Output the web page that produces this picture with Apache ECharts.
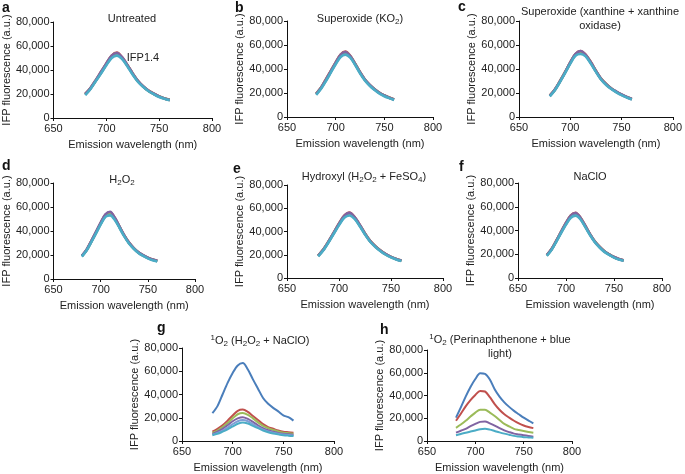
<!DOCTYPE html>
<html><head><meta charset="utf-8">
<script src="https://cdn.jsdelivr.net/npm/echarts@6/dist/echarts.min.js"></script>
<style>html,body{margin:0;padding:0;background:#fff}#c{width:685px;height:474px}</style>
</head><body><div id="c"></div>
<script>
const wl = [680,685,690,695,700,705,710,715,720,725,730,735,740,745,750,755,760];
const xTicks = [650,700,750,800];
const yTicks = [0,20000,40000,60000,80000];

const aBlue   = [19500,24500,31000,37500,44500,50500,53000,49500,43500,36500,30500,26000,22500,20000,17800,16200,15000];
const aRed    = [20000,25000,31500,38500,45500,52000,54500,50500,44000,37000,30800,26300,22800,20200,18000,16300,15100];
const aGreen  = [19800,24800,31200,38000,45000,51500,54000,50000,43800,36800,30600,26100,22600,20100,17900,16200,15000];
const aPurple = [20000,25000,31500,38500,45500,52000,54200,50500,44000,37000,30800,26200,22700,20200,18000,16300,15000];
const aCyan   = [19000,24200,30800,37200,44000,50000,52000,49000,43000,36000,30000,25800,22300,19800,17500,16000,14700];

const bBlue   = [19000,24000,30500,37500,44500,50500,53000,50000,44000,37000,31000,26500,23000,20000,17800,16000,14500];
const bRed    = [19500,24500,31500,38500,45500,52000,54500,51000,44500,37500,31300,26800,23200,20200,18000,16200,14700];
const bGreen  = [19200,24300,31000,38000,45000,51500,54000,50500,44200,37200,31100,26600,23100,20100,17900,16100,14600];
const bPurple = [19300,24400,31200,38200,45200,51800,54200,50800,44300,37300,31200,26700,23100,20100,17900,16100,14600];
const bCyan   = [18500,23500,30000,37000,44000,50000,52000,49500,43500,36500,30500,26000,22500,19500,17300,15700,14200];

const cBlue   = [17500,22500,29500,37000,45000,51500,53500,51000,45000,38000,31500,27000,23500,20800,18500,16500,14800];
const cRed    = [17800,23000,30000,37500,45500,52500,55000,52000,45800,38500,32000,27500,23800,21000,18700,16700,15000];
const cGreen  = [17600,22800,29800,37300,45300,52000,54500,51500,45500,38300,31800,27300,23700,20900,18600,16600,14900];
const cPurple = [17700,22900,29900,37500,45500,52300,55000,51800,45600,38400,31900,27400,23800,21200,18800,16800,15000];
const cCyan   = [17200,22300,29300,36700,44500,51000,52500,50500,44500,37600,31200,26700,23300,20600,18200,16300,14600];

const dBlue   = [19000,24000,31000,38500,46000,52500,54500,50000,43000,36000,30000,25500,22000,19500,17500,16000,15000];
const dRed    = [19200,24300,31500,39000,46800,53500,55500,50800,43500,36300,30300,25800,22200,19700,17700,16200,15100];
const dGreen  = [19000,24100,31200,38700,46300,53000,55000,50300,43200,36100,30100,25600,22100,19600,17600,16100,15000];
const dPurple = [19300,24400,31600,39200,47000,53800,56000,51000,43600,36400,30400,25800,22300,19800,17800,16300,15200];
const dCyan   = [18700,23700,30700,38000,45500,51800,53000,49200,42500,35500,29600,25200,21700,19200,17200,15700,14600];

const eBlue   = [19000,24200,31000,38500,46000,52500,55000,51500,45000,37800,31500,27000,23300,20300,18000,16200,14800];
const eRed    = [19300,24700,31600,39200,47000,53600,56300,52500,45700,38300,31900,27300,23600,20600,18200,16400,15000];
const eGreen  = [19100,24400,31300,38800,46500,53000,55500,52000,45300,38000,31700,27100,23400,20400,18100,16300,14900];
const ePurple = [19200,24600,31500,39000,46800,53400,56000,52300,45600,38200,31800,27200,23500,20500,18200,16400,15000];
const eCyan   = [18700,23900,30700,38100,45500,51800,53800,50800,44500,37400,31200,26700,23000,20000,17700,16000,14600];

const fBlue   = [19000,24000,31000,38500,45500,51500,53500,50000,43500,36500,30500,26000,22300,19700,17500,15800,14700];
const fRed    = [19300,24500,31600,39200,46500,52800,55000,51000,44200,37000,30900,26300,22500,19900,17700,16000,14900];
const fGreen  = [19100,24200,31300,38800,46000,52200,54200,50500,43800,36700,30700,26100,22400,19800,17600,15900,14800];
const fPurple = [19200,24400,31500,39000,46300,52600,54600,50800,44000,36900,30800,26200,22500,19900,17700,16000,14800];
const fCyan   = [18700,23700,30700,38100,45000,50800,52500,49500,43000,36200,30200,25700,22000,19400,17200,15600,14500];

const gBlue   = [24000,30000,40000,50000,58500,65000,67000,61500,53000,45000,37000,32000,28500,25500,22000,20500,17500];
const gRed    = [8000,10500,13500,17500,22000,26000,27000,25000,21500,18000,14500,12000,10500,9000,8000,7500,7000];
const gGreen  = [7000,9000,12000,15500,19500,23000,24000,22500,19500,16000,13000,11000,9500,8200,7200,6700,6300];
const gPurple = [6000,8000,10500,13500,17000,19500,20500,19000,16500,13500,11000,9300,8000,7000,6300,5800,5400];
const gLight  = [5500,7000,9000,11500,14500,17000,18000,17000,14500,12000,9800,8300,7200,6300,5600,5100,4800];
const gCyan   = [5000,6200,8000,10000,12500,14800,16000,15000,13000,11000,9000,7600,6500,5700,5000,4600,4300];

const hBlue   = [20500,29500,39000,47500,54500,59500,59000,54000,45500,39000,34000,30000,26500,23500,20500,18000,15500];
const hRed    = [17800,24000,30500,36000,40500,44000,43500,38500,32500,27500,23500,20500,17800,15500,13600,12300,11300];
const hGreen  = [11600,14500,17800,21500,25000,27500,27500,25000,22000,18500,15000,12800,10700,9700,8800,8000,7300];
const hPurple = [7300,9000,10700,13000,15000,16800,17200,15500,13600,11300,9300,7800,6500,5800,5100,4400,3700];
const hCyan   = [5100,6200,7300,8300,9300,10300,10700,10000,8800,7600,6500,5500,4500,3900,3400,3100,2800];

const C = {blue:'#4a7ebb', red:'#c0504d', green:'#9bbb59', purple:'#8064a2', light:'#7f9ed6', cyan:'#4bacc6'};
const FONT = '"Liberation Sans", Arial, sans-serif';
const FS = 11;

const panels = [
  {grid:{left:52,top:22,width:160,height:96}, s:[[aBlue,'blue'],[aRed,'red'],[aGreen,'green'],[aPurple,'purple'],[aCyan,'cyan']], w:2.6},
  {grid:{left:287,top:21,width:146,height:96}, s:[[bBlue,'blue'],[bRed,'red'],[bGreen,'green'],[bPurple,'purple'],[bCyan,'cyan']], w:2.6},
  {grid:{left:519,top:21,width:158,height:96}, s:[[cBlue,'blue'],[cRed,'red'],[cGreen,'green'],[cPurple,'purple'],[cCyan,'cyan']], w:2.6},
  {grid:{left:52,top:183,width:143,height:96}, s:[[dBlue,'blue'],[dRed,'red'],[dGreen,'green'],[dPurple,'purple'],[dCyan,'cyan']], w:2.6},
  {grid:{left:287,top:185,width:156,height:93}, s:[[eBlue,'blue'],[eRed,'red'],[eGreen,'green'],[ePurple,'purple'],[eCyan,'cyan']], w:2.6},
  {grid:{left:518,top:183,width:144,height:95}, s:[[fBlue,'blue'],[fRed,'red'],[fGreen,'green'],[fPurple,'purple'],[fCyan,'cyan']], w:2.6},
  {grid:{left:182,top:348,width:152,height:96}, s:[[gBlue,'blue'],[gRed,'red'],[gGreen,'green'],[gPurple,'purple'],[gLight,'light'],[gCyan,'cyan']], w:2},
  {grid:{left:427,top:350,width:145,height:94}, s:[[hBlue,'blue'],[hRed,'red'],[hGreen,'green'],[hPurple,'purple'],[hCyan,'cyan']], w:2}
];

const grids=[], xAxes=[], yAxes=[], series=[];
panels.forEach((p,i)=>{
  grids.push(Object.assign({containLabel:false}, p.grid));
  xAxes.push({type:'value', gridIndex:i, min:xTicks[0], max:xTicks[xTicks.length-1], interval:50,
    name:'Emission wavelength (nm)', nameLocation:'middle', nameGap:21,
    nameTextStyle:{fontFamily:FONT,fontSize:FS,color:'#222'},
    axisLine:{show:true,onZero:false,lineStyle:{color:'#111',width:1}},
    axisTick:{show:true,length:3,lineStyle:{color:'#111'}},
    axisLabel:{fontFamily:FONT,fontSize:FS,color:'#222',margin:5},
    splitLine:{show:false}});
  yAxes.push({type:'value', gridIndex:i, min:yTicks[0], max:yTicks[yTicks.length-1], interval:20000,
    name:'IFP fluorescence (a.u.)', nameLocation:'middle', nameGap:41,
    nameTextStyle:{fontFamily:FONT,fontSize:FS,color:'#222'},
    axisLine:{show:true,lineStyle:{color:'#111',width:1}},
    axisTick:{show:true,length:3,lineStyle:{color:'#111'}},
    axisLabel:{fontFamily:FONT,fontSize:FS,color:'#222',margin:4,formatter:v=>v.toLocaleString('en-US')},
    splitLine:{show:false}});
  p.s.forEach(([vals,col])=>{
    series.push({type:'line', xAxisIndex:i, yAxisIndex:i, data:wl.map((w,k)=>[w,vals[k]]),
      showSymbol:false, smooth:0.3, lineStyle:{color:C[col],width:p.w}, itemStyle:{color:C[col]}, silent:true});
  });
});

const base = {fontFamily:FONT,fontSize:FS,fill:'#222',lineHeight:14};
const sub = {fontFamily:FONT,fontSize:8,fill:'#222',verticalAlign:'bottom'};
const sup = {fontFamily:FONT,fontSize:8,fill:'#222',verticalAlign:'top'};
function txt(x,y,text){
  return {type:'text', x:x, y:y, silent:true,
    style:{text:text, align:'center', verticalAlign:'middle', fontFamily:FONT, fontSize:FS, fill:'#222', lineHeight:14,
      rich:{t:base, s:sub, u:sup}}};
}
function letter(x,y,l){ return {type:'text', x:x, y:y, silent:true, style:{text:l, align:'left', verticalAlign:'middle', fontFamily:FONT, fontSize:14, fontWeight:'bold', fill:'#111'}}; }

const graphic = [
  letter(2,8,'a'), letter(235,8,'b'), letter(458,7,'c'),
  letter(2,166,'d'), letter(233,169,'e'), letter(459,167,'f'),
  letter(157,328,'g'), letter(380,330,'h'),
  txt(132,19,'{t|Untreated}'),
  txt(143,58,'{t|IFP1.4}'),
  txt(360,19,'{t|Superoxide (KO}{s|2}{t|)}'),
  txt(600,12,'{t|Superoxide (xanthine + xanthine}'),
  txt(600,26,'{t|oxidase)}'),
  txt(122,180,'{t|H}{s|2}{t|O}{s|2}'),
  txt(364,177,'{t|Hydroxyl (H}{s|2}{t|O}{s|2}{t| + FeSO}{s|4}{t|)}'),
  txt(590,177,'{t|NaClO}'),
  txt(260,341,'{u|1}{t|O}{s|2}{t| (H}{s|2}{t|O}{s|2}{t| + NaClO)}'),
  txt(500,340,'{u|1}{t|O}{s|2}{t| (Perinaphthenone + blue}'),
  txt(500,354,'{t|light)}')
];

const chart = echarts.init(document.getElementById('c'), null, {renderer:'canvas'});
chart.setOption({animation:false, backgroundColor:'#fff', grid:grids, xAxis:xAxes, yAxis:yAxes, series:series, graphic:graphic});
</script></body></html>
